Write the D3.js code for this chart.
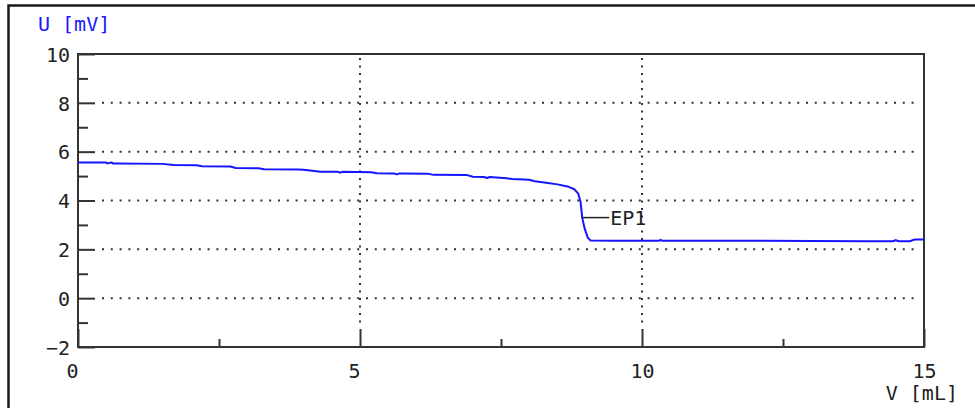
<!DOCTYPE html>
<html>
<head>
<meta charset="utf-8">
<script src="https://cdn.jsdelivr.net/npm/d3@7"></script>
<style>
  html, body { margin: 0; padding: 0; background: #fff; }
  svg { display: block; }
  text { font-family: "DejaVu Sans Mono", "Liberation Mono", monospace; font-size: 20px; }
</style>
</head>
<body>
<svg id="chart" width="975" height="408"></svg>
<script>
// Titration curve: potential U [mV] versus added volume V [mL]
const volume = [0, 0.5, 0.52, 0.6, 0.62, 0.7, 1.5, 1.7, 2.1, 2.2, 2.7, 2.8, 3.2, 3.3, 3.9,
  4.0, 4.3, 4.6, 4.65, 4.7, 5.2, 5.3, 5.6, 5.65, 5.7, 6.2, 6.3, 6.9, 7.0, 7.2, 7.25, 7.3,
  7.6, 7.7, 8.0, 8.1, 8.3, 8.5, 8.7, 8.8, 8.87, 8.91, 8.94, 8.98, 9.04, 9.09, 9.5, 10.0,
  10.3, 10.33, 10.36, 11.0, 12.0, 13.0, 14.0, 14.45, 14.5, 14.55, 14.6, 14.75, 14.8, 14.85, 15.0];
const potential = [5.56, 5.56, 5.52, 5.56, 5.52, 5.52, 5.50, 5.45, 5.44, 5.40, 5.39, 5.33, 5.32, 5.28, 5.27,
  5.26, 5.18, 5.18, 5.14, 5.18, 5.16, 5.12, 5.11, 5.07, 5.11, 5.10, 5.05, 5.04, 4.97, 4.96, 4.92, 4.96,
  4.91, 4.88, 4.85, 4.79, 4.73, 4.66, 4.56, 4.46, 4.28, 3.95, 3.30, 2.88, 2.47, 2.36, 2.35, 2.35,
  2.35, 2.39, 2.35, 2.35, 2.35, 2.34, 2.33, 2.33, 2.38, 2.33, 2.33, 2.33, 2.38, 2.40, 2.40];

// Endpoint marker
const endpoint = { label: "EP1", v: 8.94, u: 3.30 };

const xMajor = [0, 5, 10, 15];
const xMinor = [2.5, 7.5, 12.5];
const xGrid = [5, 10];
const yMajor = [-2, 0, 2, 4, 6, 8, 10];
const yMinor = [-1, 1, 3, 5, 7, 9];
const yGrid = [0, 2, 4, 6, 8];

const xTitle = "V [mL]";
const yTitle = "U [mV]";

const svg = d3.select("#chart");
const plotLeft = 78, plotRight = 924, plotTop = 54, plotBottom = 347;

const x = d3.scaleLinear().domain([0, 15]).range([plotLeft, plotRight]);
const y = d3.scaleLinear().domain([-2, 10]).range([plotBottom, plotTop]);

// Outer frame
svg.append("rect")
  .attr("x", 8.5).attr("y", 5.5)
  .attr("width", 1200).attr("height", 1200)
  .attr("fill", "none").attr("stroke", "#1a1a1a").attr("stroke-width", 2.5);

// Dotted grid
const grid = svg.append("g").attr("stroke", "#333").attr("stroke-width", 2);
grid.selectAll("line.h").data(yGrid).join("line")
  .attr("class", "h")
  .attr("x1", plotLeft + 24).attr("x2", plotRight - 4)
  .attr("y1", d => y(d)).attr("y2", d => y(d))
  .attr("stroke-dasharray", "2 6.8");
grid.selectAll("line.v").data(xGrid).join("line")
  .attr("class", "v")
  .attr("y1", plotTop + 4).attr("y2", plotBottom - 20)
  .attr("x1", d => x(d)).attr("x2", d => x(d))
  .attr("stroke-dasharray", "2 5.5");

// Axes with inward ticks
const axisColor = "#333";
const yAxis = svg.append("g").attr("transform", `translate(${plotLeft},0)`)
  .call(d3.axisLeft(y).tickValues(yMajor).tickSize(-17).tickPadding(8).tickFormat(d => d < 0 ? "\u2212" + Math.abs(d) : d));
yAxis.select(".domain").remove();
yAxis.selectAll(".tick line").attr("stroke", axisColor).attr("stroke-width", 2);
yAxis.selectAll(".tick text").attr("fill", "#222").attr("font-size", 20).attr("dy", "0.36em")
  .attr("font-family", "DejaVu Sans Mono, monospace");

const yMinorAxis = svg.append("g").attr("transform", `translate(${plotLeft},0)`)
  .call(d3.axisLeft(y).tickValues(yMinor).tickSize(-10).tickFormat(""));
yMinorAxis.select(".domain").remove();
yMinorAxis.selectAll(".tick line").attr("stroke", axisColor).attr("stroke-width", 2);

const xAxis = svg.append("g").attr("transform", `translate(0,${plotBottom})`)
  .call(d3.axisBottom(x).tickValues(xMajor).tickSize(-18).tickPadding(0).tickFormat(d3.format("d")));
xAxis.select(".domain").remove();
xAxis.selectAll(".tick line").attr("stroke", axisColor).attr("stroke-width", 2);
xAxis.selectAll(".tick text")
  .attr("fill", "#222").attr("font-size", 20)
  .attr("font-family", "DejaVu Sans Mono, monospace")
  .attr("text-anchor", "start").attr("x", -12).attr("y", 31).attr("dy", 0);

const xMinorAxis = svg.append("g").attr("transform", `translate(0,${plotBottom})`)
  .call(d3.axisBottom(x).tickValues(xMinor).tickSize(-8).tickFormat(""));
xMinorAxis.select(".domain").remove();
xMinorAxis.selectAll(".tick line").attr("stroke", axisColor).attr("stroke-width", 2);

// Plot frame
svg.append("rect")
  .attr("x", plotLeft).attr("y", plotTop)
  .attr("width", plotRight - plotLeft).attr("height", plotBottom - plotTop)
  .attr("fill", "none").attr("stroke", "#333").attr("stroke-width", 2);

// Curve
const line = d3.line().x((d, i) => x(volume[i])).y(d => y(d));
svg.append("path")
  .datum(potential)
  .attr("d", line)
  .attr("fill", "none")
  .attr("stroke", "#1515ff")
  .attr("stroke-width", 2)
  .attr("stroke-linejoin", "round");

// Endpoint annotation
svg.append("line")
  .attr("x1", x(endpoint.v)).attr("x2", x(endpoint.v) + 27)
  .attr("y1", y(endpoint.u)).attr("y2", y(endpoint.u))
  .attr("stroke", "#222").attr("stroke-width", 1.5);
svg.append("text")
  .attr("x", x(endpoint.v) + 28).attr("y", y(endpoint.u) + 7)
  .attr("fill", "#222")
  .text(endpoint.label);

// Axis titles
svg.append("text")
  .attr("x", 38).attr("y", 31)
  .attr("fill", "#1a1aff")
  .text(yTitle);
svg.append("text")
  .attr("x", 958).attr("y", 400)
  .attr("text-anchor", "end")
  .attr("fill", "#222")
  .text(xTitle);
</script>
</body>
</html>
